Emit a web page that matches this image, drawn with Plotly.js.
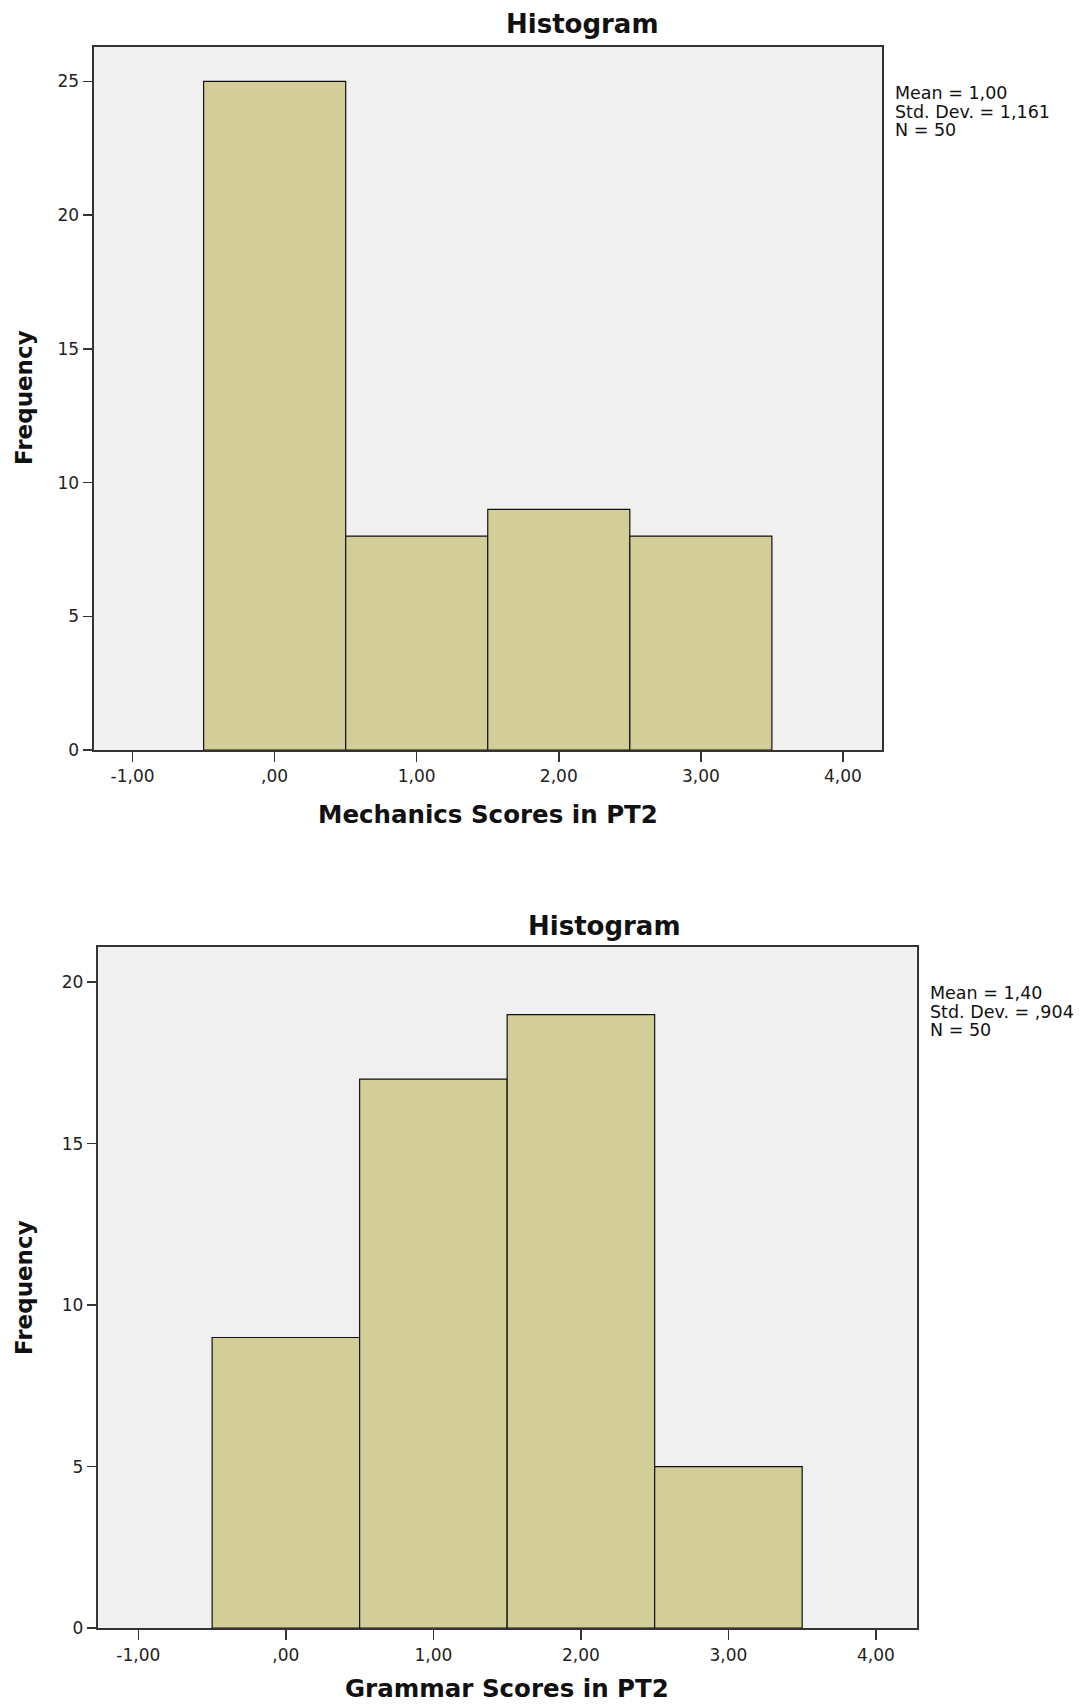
<!DOCTYPE html>
<html><head><meta charset="utf-8">
<script src="https://cdn.plot.ly/plotly-3.0.1.min.js"></script>
<style>html,body{margin:0;padding:0;background:#fff}</style>
</head><body><div id="chart" style="width:1088px;height:1704px"></div>
<script>
const binCenters = [0, 1, 2, 3];
const mechanicsCounts = [25, 8, 9, 8];
const grammarCounts = [9, 17, 19, 5];
const xTickVals = [-1, 0, 1, 2, 3, 4];
const xTickText = ["-1,00", ",00", "1,00", "2,00", "3,00", "4,00"];
const mechanicsYTicks = [0, 5, 10, 15, 20, 25];
const grammarYTicks = [0, 5, 10, 15, 20];
const mechanicsStats = ["Mean = 1,00", "Std. Dev. = 1,161", "N = 50"];
const grammarStats = ["Mean = 1,40", "Std. Dev. = ,904", "N = 50"];
const chartTitle = "Histogram";
const mechanicsXTitle = "Mechanics Scores in PT2";
const grammarXTitle = "Grammar Scores in PT2";
const yTitle = "Frequency";

const W = 1088, H = 1704;
const px = x => x / W;
const py = y => 1 - y / H;
const FONT = "DejaVu Sans, Liberation Sans, Arial, sans-serif";
const barColor = "#D3CE97";
const frameColor = "#333333";

function bars(counts, xa, ya) {
  return {
    type: "bar", x: binCenters, y: counts, width: 1,
    xaxis: xa, yaxis: ya,
    marker: {color: barColor, line: {color: "#111", width: 1.2}},
    hoverinfo: "x+y", showlegend: false
  };
}

function xAxis(domain, anchor) {
  return {
    domain: domain, anchor: anchor, range: [-1.275, 4.275],
    tickmode: "array", tickvals: xTickVals, ticktext: xTickText,
    ticks: "outside", ticklen: 10, tickwidth: 1.5, tickcolor: frameColor,
    showline: true, linecolor: frameColor, linewidth: 2, mirror: true,
    showgrid: false, zeroline: false, fixedrange: true,
    tickfont: {family: FONT, size: 17, color: "#222"}
  };
}
function yAxis(domain, anchor, range, ticks) {
  return {
    domain: domain, anchor: anchor, range: range,
    tickmode: "array", tickvals: ticks, ticktext: ticks.map(String),
    ticks: "outside", ticklen: 9, tickwidth: 1.5, tickcolor: frameColor,
    showline: true, linecolor: frameColor, linewidth: 2, mirror: true,
    showgrid: false, zeroline: false, fixedrange: true,
    tickfont: {family: FONT, size: 17, color: "#222"}
  };
}

function textAnn(text, x, y, opts) {
  return Object.assign({
    text: text, xref: "paper", yref: "paper", x: px(x), y: py(y),
    xanchor: "center", yanchor: "middle", showarrow: false,
    font: {family: FONT, size: 17, color: "#111"}
  }, opts || {});
}

const annotations = [
  textAnn(chartTitle, 582, 24, {font: {family: FONT, size: 26, color: "#111", weight: "bold"}}),
  textAnn(mechanicsXTitle, 488, 815, {font: {family: FONT, size: 24.5, color: "#111", weight: "bold"}}),
  textAnn(yTitle, 24, 398, {textangle: -90, font: {family: FONT, size: 23, color: "#111", weight: "bold"}}),
  textAnn(chartTitle, 604, 926, {font: {family: FONT, size: 26, color: "#111", weight: "bold"}}),
  textAnn(grammarXTitle, 507, 1704, {yanchor: "bottom", borderpad: 0, font: {family: FONT, size: 24.5, color: "#111", weight: "bold"}}),
  textAnn(yTitle, 24, 1288, {textangle: -90, font: {family: FONT, size: 23, color: "#111", weight: "bold"}})
];
const topStatY = [93, 111.5, 130];
const botStatY = [992.7, 1011.5, 1029.7];
mechanicsStats.forEach((t, i) => annotations.push(textAnn(t, 893, topStatY[i], {xanchor: "left", font: {family: FONT, size: 17.5, color: "#111"}})));
grammarStats.forEach((t, i) => annotations.push(textAnn(t, 928, botStatY[i], {xanchor: "left", font: {family: FONT, size: 17.5, color: "#111"}})));

const layout = {
  width: W, height: H,
  margin: {l: 0, r: 0, t: 0, b: 0},
  paper_bgcolor: "#ffffff", plot_bgcolor: "#F0F0F0",
  bargap: 0, showlegend: false,
  xaxis: xAxis([px(93.5), px(882)], "y"),
  yaxis: yAxis([py(750), py(46.7)], "x", [0, 26.3], mechanicsYTicks),
  xaxis2: xAxis([px(97.8), px(916.5)], "y2"),
  yaxis2: yAxis([py(1628.2), py(946.7)], "x2", [0, 21.1], grammarYTicks),
  annotations: annotations
};

Plotly.newPlot("chart", [bars(mechanicsCounts, "x", "y"), bars(grammarCounts, "x2", "y2")], layout, {displayModeBar: false, staticPlot: true});
</script></body></html>
